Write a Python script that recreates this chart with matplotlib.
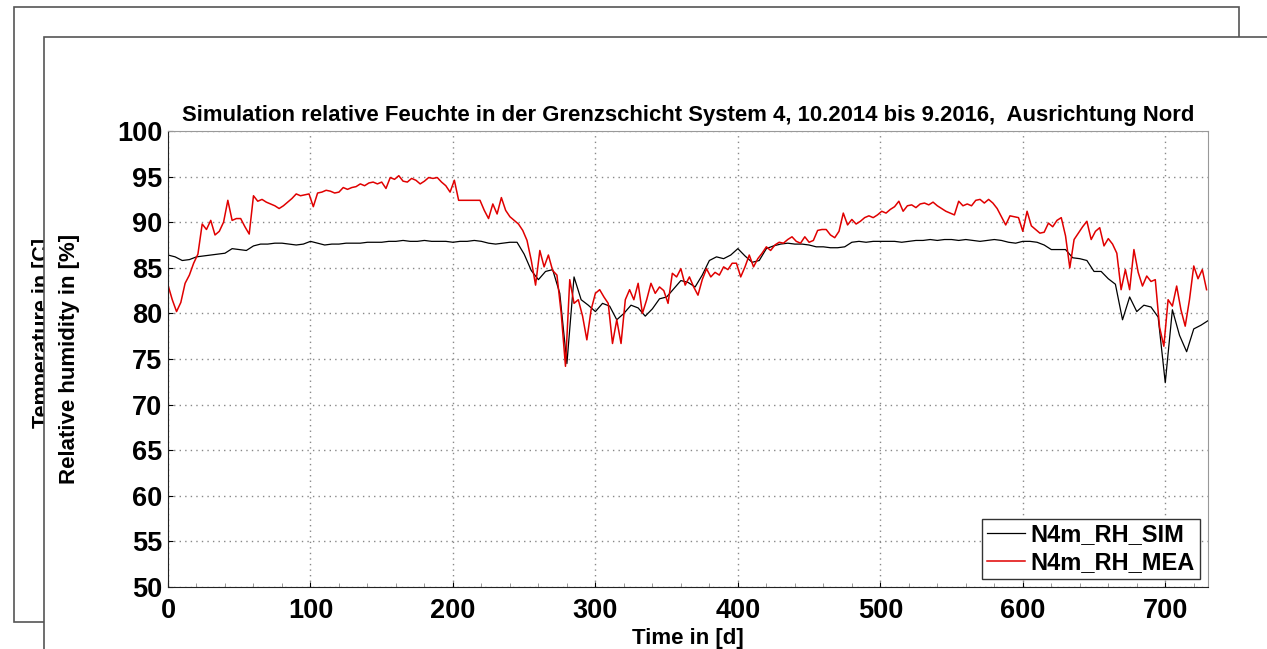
#!/usr/bin/env python3
"""Relative humidity in the boundary layer, system 4, north orientation."""

import numpy as np
import matplotlib
matplotlib.use("Agg")
import matplotlib.pyplot as plt
from matplotlib.patches import Rectangle
from matplotlib.ticker import MultipleLocator

plt.rcParams["font.family"] = ["Liberation Sans", "DejaVu Sans"]

# simulated RH, one value every 5 days (day 0 .. 730)
rh_sim = [
    86.4, 86.2, 85.8, 85.9, 86.2, 86.3, 86.4, 86.5, 86.6, 87.1,
    87.0, 86.9, 87.4, 87.6, 87.6, 87.7, 87.7, 87.6, 87.5, 87.6,
    87.9, 87.7, 87.5, 87.6, 87.6, 87.7, 87.7, 87.7, 87.8, 87.8,
    87.8, 87.9, 87.9, 88.0, 87.9, 87.9, 88.0, 87.9, 87.9, 87.9,
    87.8, 87.9, 87.9, 88.0, 87.9, 87.7, 87.6, 87.7, 87.8, 87.8,
    86.5, 84.7, 83.7, 84.6, 84.8, 82.2, 74.5, 84.0, 81.5, 80.9,
    80.2, 81.1, 80.8, 79.3, 80.0, 80.9, 80.6, 79.7, 80.5, 81.6,
    81.8, 82.7, 83.6, 83.4, 82.9, 84.2, 85.8, 86.2, 86.0, 86.4,
    87.1, 86.3, 85.6, 85.8, 87.1, 87.4, 87.6, 87.7, 87.6, 87.6,
    87.5, 87.3, 87.3, 87.2, 87.2, 87.3, 87.8, 87.9, 87.8, 87.9,
    87.9, 87.9, 87.9, 87.8, 87.9, 88.0, 88.0, 88.1, 88.0, 88.1,
    88.1, 88.0, 88.1, 88.0, 87.9, 88.0, 88.1, 88.0, 87.8, 87.7,
    87.9, 87.9, 87.8, 87.5, 87.0, 87.0, 87.0, 86.1, 86.0, 85.8,
    84.6, 84.6, 83.8, 83.2, 79.3, 81.8, 80.2, 80.9, 80.7, 79.6,
    72.4, 80.4, 77.6, 75.8, 78.3, 78.7, 79.2,
]
sim_step = 5

# measured RH, one value every 3 days (day 0 .. 729)
rh_mea = [
    83.1, 81.5, 80.2, 81.2, 83.3, 84.2, 85.5, 86.5, 89.8, 89.2,
    90.2, 88.6, 89.0, 90.0, 92.4, 90.2, 90.4, 90.4, 89.5, 88.7,
    92.9, 92.3, 92.5, 92.2, 92.0, 91.8, 91.5, 91.8, 92.2, 92.6,
    93.1, 92.9, 93.0, 93.1, 91.7, 93.2, 93.3, 93.5, 93.4, 93.2,
    93.3, 93.8, 93.6, 93.8, 93.9, 94.2, 94.0, 94.3, 94.4, 94.2,
    94.4, 93.7, 94.9, 94.7, 95.1, 94.5, 94.4, 94.8, 94.6, 94.2,
    94.5, 94.9, 94.8, 94.9, 94.4, 94.0, 93.3, 94.6, 92.4, 92.4,
    92.4, 92.4, 92.4, 92.4, 91.3, 90.4, 92.0, 90.9, 92.7, 91.3,
    90.6, 90.2, 89.8, 89.1, 88.0, 85.8, 83.1, 86.9, 85.1, 86.4,
    84.7, 84.2, 80.0, 74.2, 83.7, 81.1, 81.5, 79.7, 77.1, 80.4,
    82.2, 82.6, 81.8, 81.1, 76.7, 79.3, 76.7, 81.5, 82.6, 81.5,
    83.3, 80.0, 81.5, 83.3, 82.2, 82.9, 82.5, 81.1, 84.4, 84.0,
    84.9, 83.1, 84.0, 82.9, 82.0, 83.7, 84.9, 84.0, 84.5, 84.2,
    85.1, 84.8, 85.5, 85.5, 84.0, 85.1, 86.4, 85.1, 86.0, 86.6,
    87.3, 86.9, 87.5, 87.8, 87.7, 88.1, 88.4, 87.9, 87.7, 88.4,
    87.8, 88.0, 89.1, 89.2, 89.2, 88.6, 88.3, 89.0, 91.0, 89.7,
    90.3, 89.8, 90.1, 90.5, 90.7, 90.5, 90.8, 91.2, 91.0, 91.4,
    91.7, 92.3, 91.2, 91.8, 91.9, 91.6, 92.0, 92.1, 91.9, 92.2,
    91.8, 91.5, 91.2, 91.0, 90.8, 92.3, 91.8, 92.0, 91.8, 92.4,
    92.5, 92.1, 92.5, 92.1, 91.5, 90.6, 89.7, 90.7, 90.6, 90.5,
    89.0, 91.2, 89.6, 89.2, 88.8, 88.9, 89.9, 89.5, 90.2, 90.5,
    88.5, 85.0, 88.1, 88.8, 89.5, 90.1, 88.1, 89.0, 89.4, 87.4,
    88.2, 87.6, 86.6, 82.6, 84.8, 82.6, 87.0, 84.5, 83.0, 84.1,
    83.5, 83.7, 78.5, 76.4, 81.5, 80.8, 83.0, 80.4, 78.6, 81.5,
    85.2, 83.8, 84.8, 82.6,
]
mea_step = 3

labels = ["N4m_RH_SIM", "N4m_RH_MEA"]
title = ("Simulation relative Feuchte in der Grenzschicht System 4, "
         "10.2014 bis 9.2016,  Ausrichtung Nord")

W, H = 1267, 649
fig = plt.figure(figsize=(W / 100, H / 100), dpi=100)

# window stack: back panel (temperature plot) partly hidden by the front one
fig.patches.append(Rectangle((14 / W, 1 - 622 / H), 1225 / W, 615 / H,
                             transform=fig.transFigure, facecolor="white",
                             edgecolor="#555555", lw=1.2, zorder=0.5))
fig.text(43 / W, 1 - 333 / H, "Temperature in [C]", rotation=90,
         ha="center", va="center", fontsize=15.5, fontweight="bold", zorder=0.6)
fig.patches.append(Rectangle((44 / W, -0.05), 1.0, 1 - 37 / H + 0.05,
                             transform=fig.transFigure, facecolor="white",
                             edgecolor="#555555", lw=1.2, zorder=0.7))

ax = fig.add_axes([168 / W, 1 - 587 / H, 1040 / W, 456 / H], zorder=1)

sim_days = sim_step * np.arange(len(rh_sim))
mea_days = mea_step * np.arange(len(rh_mea))
ax.plot(sim_days, rh_sim, color="black", lw=0.9, label=labels[0])
ax.plot(mea_days, rh_mea, color="#e00000", lw=1.1, label=labels[1])

ax.set_xlim(0, 730)
ax.set_ylim(50, 100)
ax.xaxis.set_major_locator(MultipleLocator(100))
ax.xaxis.set_minor_locator(MultipleLocator(20))
ax.yaxis.set_major_locator(MultipleLocator(5))

ax.grid(True, which="major", linestyle=(0, (1, 3)), color="#888888", lw=1.0)
ax.tick_params(which="both", direction="in", labelsize=19.5, pad=8,
               top=False, right=False)
ax.tick_params(axis="y", pad=4)
ax.tick_params(which="minor", length=3, color="#888888")
for lab in ax.get_xticklabels() + ax.get_yticklabels():
    lab.set_fontweight("bold")

for side in ("left", "bottom"):
    ax.spines[side].set_color("#222222")
for side in ("top", "right"):
    ax.spines[side].set_color("#999999")

ax.set_title(title, fontsize=15.9, fontweight="bold", pad=7)
ax.set_xlabel("Time in [d]", fontsize=16, fontweight="bold")
ax.set_ylabel("Relative humidity in [%]", fontsize=16, fontweight="bold")
ax.xaxis.set_label_coords(0.5, -0.090)
ax.yaxis.set_label_coords(-0.085, 0.5)

leg = ax.legend(loc="lower right", prop={"weight": "bold", "size": 17},
                frameon=True, fancybox=False, framealpha=1,
                edgecolor="#333333", borderaxespad=0.35, borderpad=0.2,
                labelspacing=0.2, handlelength=1.6, handletextpad=0.25)
leg.get_frame().set_linewidth(1.0)

fig.savefig("out.png", dpi=100)
